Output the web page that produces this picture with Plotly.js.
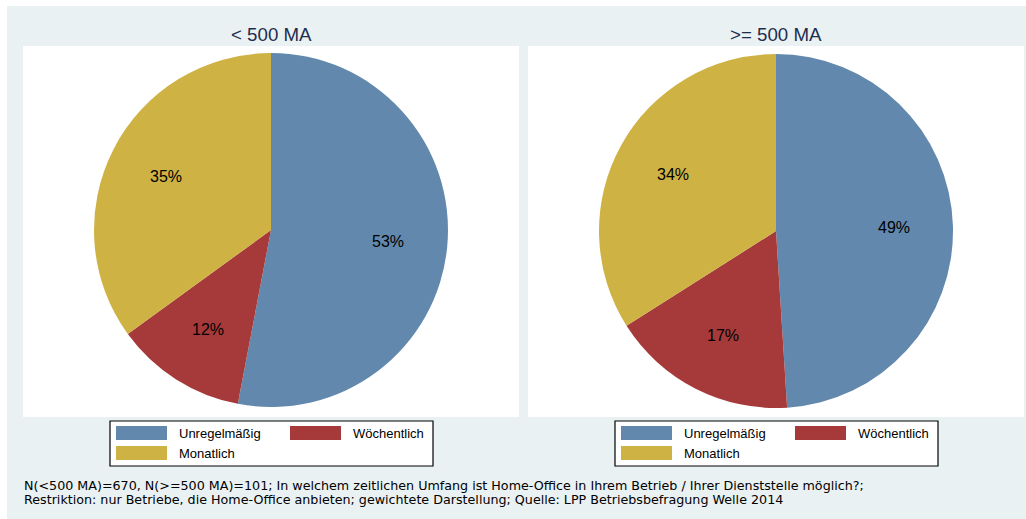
<!DOCTYPE html>
<html>
<head>
<meta charset="utf-8">
<script src="https://cdn.plot.ly/plotly-3.0.1.min.js"></script>
<style>html,body{margin:0;padding:0;background:#fff;}#chart{width:1026px;height:519px;}</style>
</head>
<body>
<div id="chart"></div>
<script>
// ---- data ----
const categories = ["Unregelmäßig", "Wöchentlich", "Monatlich"];
const groupTitles = ["< 500 MA", ">= 500 MA"];
const valuesSmall = [53, 12, 35];
const valuesLarge = [49, 17, 34];
const noteLines = [
  "N(<500 MA)=670, N(>=500 MA)=101; In welchem zeitlichen Umfang ist Home-Office in Ihrem Betrieb / Ihrer Dienststelle möglich?;",
  "Restriktion: nur Betriebe, die Home-Office anbieten; gewichtete Darstellung; Quelle: LPP Betriebsbefragung Welle 2014"
];

// ---- styling ----
const W = 1026, H = 519;
const colors = ["rgb(98,137,173)", "rgb(166,58,58)", "rgb(206,178,67)"];
const bgCol = "#eaf1f3";
const font = "Liberation Sans, Arial, sans-serif";
const px = x => x / W;
const py = y => 1 - y / H;

const panels = [
  {x0: 23, x1: 519, cx: 271, cy: 230, r: 177, legX: 110},
  {x0: 528, x1: 1024, cx: 776, cy: 231, r: 177, legX: 615}
];
const allValues = [valuesSmall, valuesLarge];
const labelRadius = 0.665;

const shapes = [
  {type: "rect", xref: "paper", yref: "paper", x0: px(7), x1: px(W), y0: 0, y1: py(6),
   fillcolor: bgCol, line: {width: 0}, layer: "below"}
];
const annotations = [];

const traces = allValues.map((vals, i) => {
  const p = panels[i];
  // percentage labels placed at mid-angle of each slice (clockwise from 12 o'clock)
  const total = vals.reduce((a, b) => a + b, 0);
  let cum = 0;
  vals.forEach(v => {
    const a = (cum + v / 2) / total * 2 * Math.PI;
    cum += v;
    annotations.push({xref: "paper", yref: "paper",
      x: px(p.cx + labelRadius * p.r * Math.sin(a)), y: py(p.cy - labelRadius * p.r * Math.cos(a)),
      text: Math.round(v / total * 100) + "%", showarrow: false, xanchor: "center", yanchor: "middle",
      font: {family: font, size: 16, color: "#000"}});
  });
  return {
    type: "pie",
    labels: categories,
    values: vals,
    sort: false,
    direction: "clockwise",
    rotation: 0,
    marker: {colors: colors, line: {width: 0}},
    textinfo: "none",
    hoverinfo: "label+percent",
    showlegend: false,
    domain: {x: [px(p.cx - p.r), px(p.cx + p.r)], y: [py(p.cy + p.r), py(p.cy - p.r)]}
  };
});

panels.forEach((p, i) => {
  shapes.push({type: "rect", xref: "paper", yref: "paper", x0: px(p.x0), x1: px(p.x1), y0: py(417), y1: py(46),
    fillcolor: "#ffffff", line: {width: 0}, layer: "below"});
  annotations.push({xref: "paper", yref: "paper", x: px((p.x0 + p.x1) / 2), y: py(34), text: groupTitles[i],
    showarrow: false, xanchor: "center", yanchor: "middle", font: {family: font, size: 18.7, color: "#1e2d4f"}});
  // legend box
  const lx = p.legX;
  shapes.push({type: "rect", xref: "paper", yref: "paper", x0: px(lx), x1: px(lx + 323), y0: py(466), y1: py(421),
    fillcolor: "#ffffff", line: {width: 1.2, color: "#000"}});
  const slots = [{x: lx + 6, y: 426}, {x: lx + 180, y: 426}, {x: lx + 6, y: 446}];
  categories.forEach((c, k) => {
    const s = slots[k];
    shapes.push({type: "rect", xref: "paper", yref: "paper", x0: px(s.x), x1: px(s.x + 51), y0: py(s.y + 14), y1: py(s.y),
      fillcolor: colors[k], line: {width: 0}});
    annotations.push({xref: "paper", yref: "paper", x: px(s.x + 61), y: py(s.y + 7), text: c, showarrow: false,
      xanchor: "left", yanchor: "middle", font: {family: font, size: 13, color: "#000"}});
  });
});

noteLines.forEach((t, k) => {
  annotations.push({xref: "paper", yref: "paper", x: px(22), y: py(485 + k * 14), text: t, showarrow: false,
    xanchor: "left", yanchor: "middle", font: {family: "DejaVu Sans, sans-serif", size: 12.7, color: "#000"}});
});

const layout = {
  width: W, height: H,
  margin: {l: 0, r: 0, t: 0, b: 0},
  paper_bgcolor: "#ffffff",
  plot_bgcolor: "#ffffff",
  showlegend: false,
  shapes: shapes,
  annotations: annotations
};

Plotly.newPlot("chart", traces, layout, {displayModeBar: false, staticPlot: true});
</script>
</body>
</html>
